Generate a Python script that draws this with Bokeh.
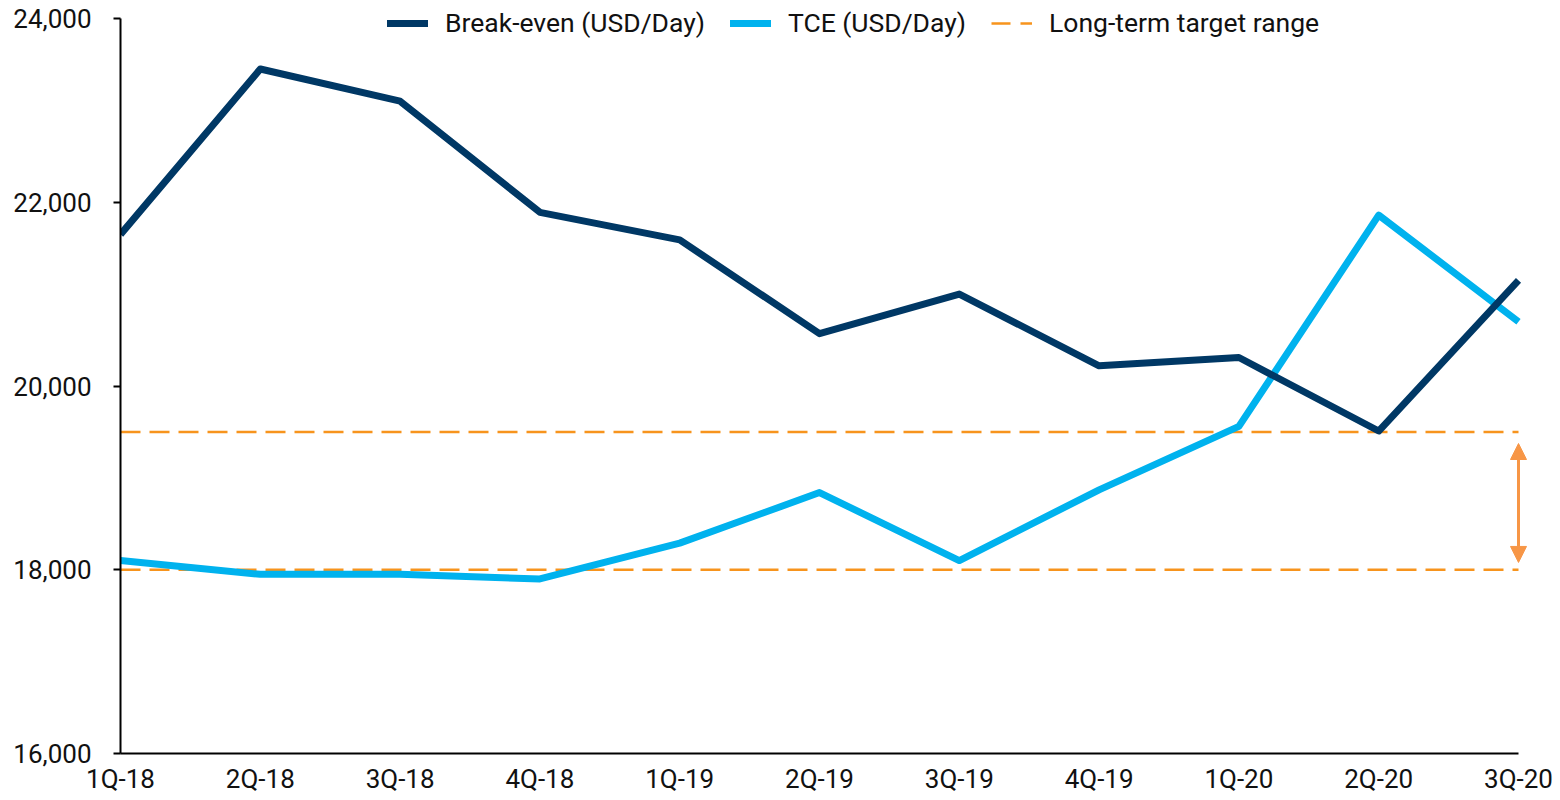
from bokeh.plotting import figure
from bokeh.models import (ColumnDataSource, Range1d, FixedTicker, NumeralTickFormatter,
                          Legend, LegendItem, Arrow, NormalHead)
from bokeh.embed import file_html
from bokeh.resources import INLINE

quarters = ["1Q-18", "2Q-18", "3Q-18", "4Q-18", "1Q-19", "2Q-19", "3Q-19",
            "4Q-19", "1Q-20", "2Q-20", "3Q-20"]
break_even = [21650, 23450, 23100, 21890, 21590, 20570, 21000, 20220, 20310, 19510, 21150]
tce = [18100, 17950, 17950, 17900, 18290, 18840, 18100, 18870, 19560, 21860, 20700]
target_low = 18000
target_high = 19500
y_min, y_max = 16000, 24000
y_ticks = [16000, 18000, 20000, 22000, 24000]

NAVY = "#003865"
BLUE = "#00B2EE"
ORANGE = "#F7941D"
ARROW = "#F79646"
FONT = "Roboto"
NAN = float("nan")

xs = list(range(len(quarters)))
n_steps = len(quarters) - 1

# frame spans slightly beyond the plotted area so the legend and the arrow are not clipped;
# axis lines are bounded to the data extent
headroom = (y_max - y_min) * 18 / 735
x_extra = n_steps * 22 / 1398
p = figure(width=1560, height=800, output_backend="svg", toolbar_location=None,
           x_range=Range1d(0, n_steps + x_extra), y_range=Range1d(y_min, y_max + headroom),
           min_border_left=120, min_border_right=20, min_border_top=0, min_border_bottom=47)
p.outline_line_color = None
p.xgrid.visible = False
p.ygrid.visible = False
p.background_fill_color = "white"

# target range dashed lines
p.line([xs[0], xs[-1]], [target_low, target_low], line_color=ORANGE, line_width=2.5,
       line_dash="20 9")
p.line([xs[0], xs[-1]], [target_high, target_high], line_color=ORANGE, line_width=2.5,
       line_dash="20 9")

# series
src = ColumnDataSource(dict(x=xs, be=break_even, tce=tce))
p.line("x", "tce", source=src, line_color=BLUE, line_width=7, line_join="round")
p.line("x", "be", source=src, line_color=NAVY, line_width=7, line_join="round")

# arrow indicating target range
span = target_high - target_low
p.add_layout(Arrow(x_start=xs[-1], x_end=xs[-1], y_start=target_low + span * 0.053,
                   y_end=target_high - span * 0.084, line_color=ARROW, line_width=3,
                   start=NormalHead(size=16, fill_color=ARROW, line_color=ARROW, line_width=1),
                   end=NormalHead(size=16, fill_color=ARROW, line_color=ARROW, line_width=1)))

# legend-only renderers (round caps)
l1 = p.line([NAN], [NAN], line_color=NAVY, line_width=7, line_cap="round")
l2 = p.line([NAN], [NAN], line_color=BLUE, line_width=7, line_cap="round")
l3 = p.line([NAN], [NAN], line_color=ORANGE, line_width=2.5, line_dash="19 10")

legend = Legend(items=[LegendItem(label="Break-even (USD/Day)", renderers=[l1]),
                       LegendItem(label="TCE (USD/Day)", renderers=[l2]),
                       LegendItem(label="Long-term target range", renderers=[l3])],
                orientation="horizontal", location=(267, 715),
                glyph_width=41, glyph_height=28, label_height=28, label_standoff=17, spacing=25,
                padding=0, margin=0, border_line_color=None, background_fill_alpha=0,
                label_text_font=FONT, label_text_font_size="26.5px", label_text_color="#111111")
p.add_layout(legend, "center")

# axes
p.yaxis.ticker = FixedTicker(ticks=y_ticks)
p.yaxis.bounds = (y_min, y_max)
p.yaxis.formatter = NumeralTickFormatter(format="0,0")
p.yaxis.major_tick_out = 7
p.yaxis.major_tick_in = 0
p.yaxis.minor_tick_line_color = None
p.yaxis.major_label_standoff = 22
p.yaxis.axis_line_width = 2
p.yaxis.axis_line_color = "black"
p.yaxis.major_tick_line_width = 2

p.xaxis.ticker = FixedTicker(ticks=xs)
p.xaxis.bounds = (xs[0], xs[-1])
p.xaxis.major_label_overrides = {i: q for i, q in enumerate(quarters)}
p.xaxis.major_tick_line_color = None
p.xaxis.major_tick_out = 0
p.xaxis.major_tick_in = 0
p.xaxis.minor_tick_line_color = None
p.xaxis.major_label_standoff = 10
p.xaxis.axis_line_width = 2
p.xaxis.axis_line_color = "black"

for ax in (p.xaxis, p.yaxis):
    ax.major_label_text_font = FONT
    ax.major_label_text_font_size = "26px"
    ax.major_label_text_color = "#111111"

open("out.html", "w").write(file_html(p, INLINE))
